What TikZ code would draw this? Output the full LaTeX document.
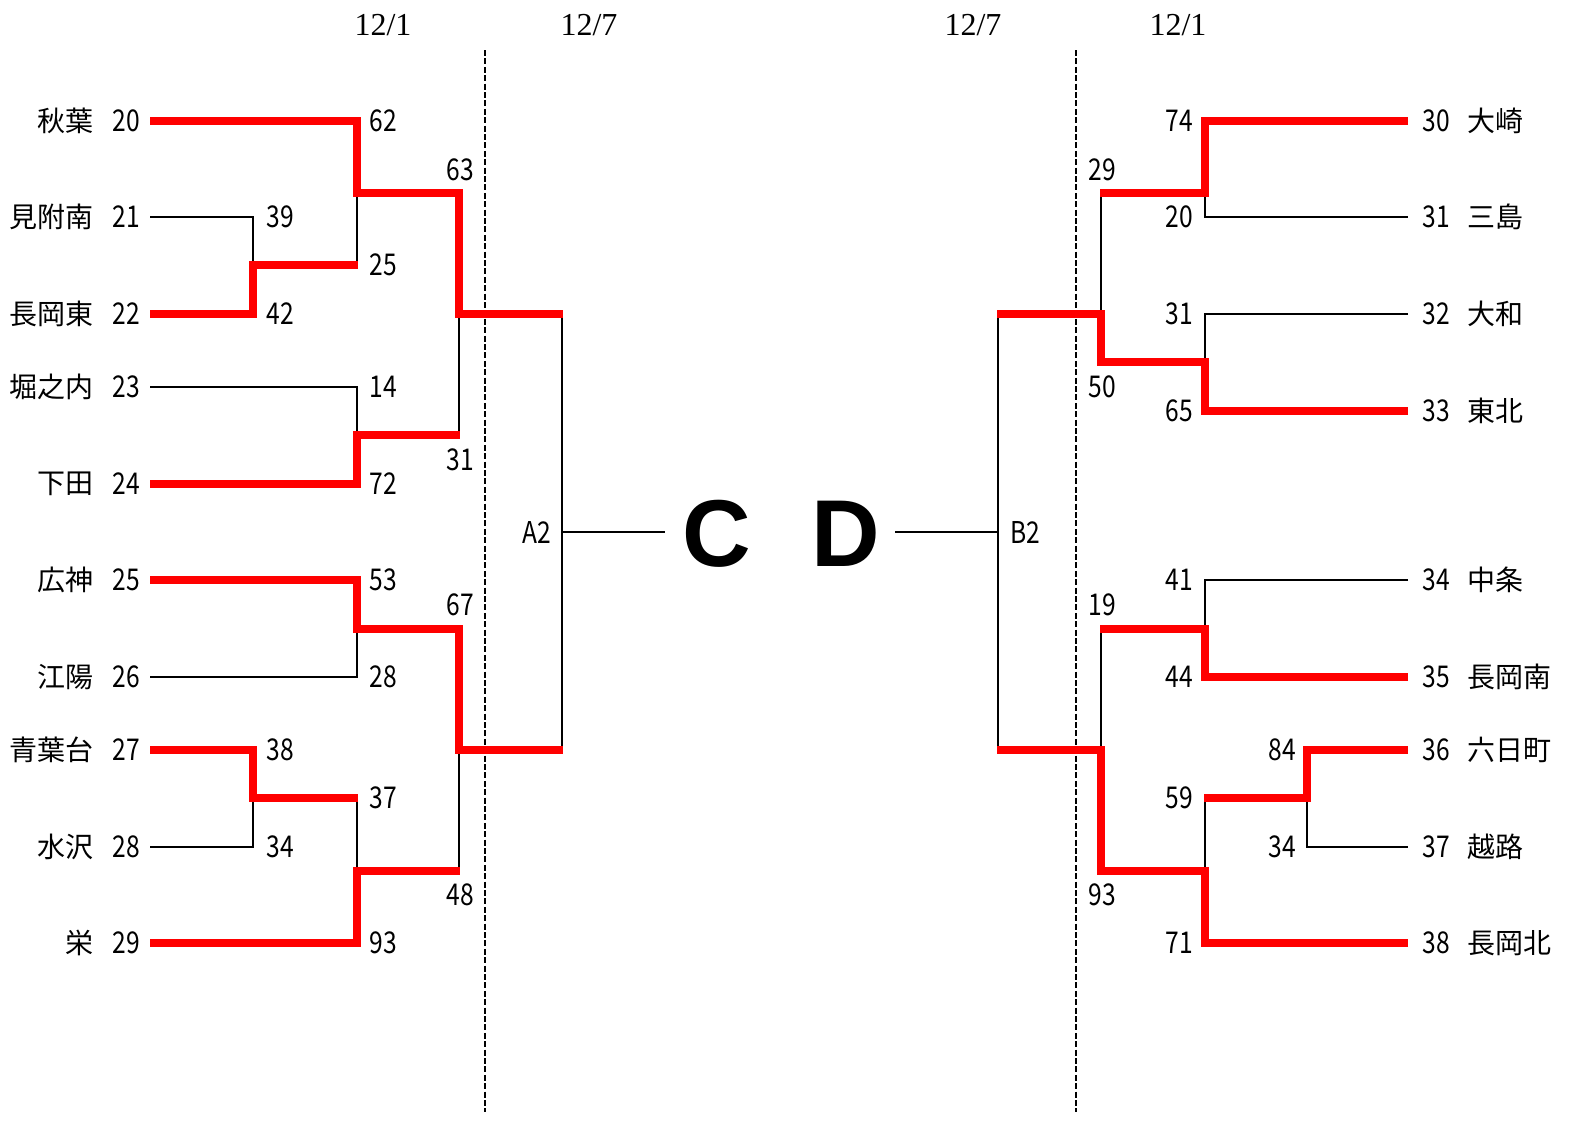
\documentclass[tikz,border=0pt]{standalone}
\usepackage{fontspec}
\setmainfont{Noto Sans CJK JP}
\newfontfamily\numf[FakeStretch=0.82]{Noto Sans CJK JP}
\newfontfamily\datef{Liberation Serif}
\newfontfamily\bigf{Liberation Sans}
\begin{document}
\begin{tikzpicture}[x=0.5pt,y=-0.5pt,
  blk/.style={black,line width=1.45pt,line join=miter},
  win/.style={red,line width=3.6pt,line join=miter},
  cut/.style={black,line width=1.15pt,dash pattern=on 3pt off 1.2pt},
  teamlbl/.style={inner sep=0pt,font=\fontsize{14pt}{14pt}\selectfont},
  numlbl/.style={inner sep=0pt,font=\numf\fontsize{15pt}{15pt}\selectfont},
  datelbl/.style={inner sep=0pt,font=\datef\fontsize{16pt}{16pt}\selectfont},
  biglbl/.style={inner sep=0pt,font=\bigf\bfseries\fontsize{47.5pt}{47.5pt}\selectfont}]
\useasboundingbox (0,0) rectangle (1573,1121);
% dates
\node[datelbl] (d1) at (383,25) {12/1};
\node[datelbl] (d2) at (589,25) {12/7};
\node[datelbl] (d3) at (973,25) {12/7};
\node[datelbl] (d4) at (1178,25) {12/1};
% dashed separators
\coordinate (c1t) at (485,50); \coordinate (c1b) at (485,1112);
\coordinate (c2t) at (1076,50); \coordinate (c2b) at (1076,1112);
\draw[cut] (c1t) -- (c1b);
\draw[cut] (c2t) -- (c2b);
% left teams
\foreach \nm/\n/\y in {秋葉/20/121,見附南/21/217,長岡東/22/314,堀之内/23/387,下田/24/484,広神/25/580,江陽/26/677,青葉台/27/750,水沢/28/847,栄/29/943}{
  \node[teamlbl,anchor=east] (ln\n) at (94,\y) {\nm};
  \node[numlbl] (lnum\n) at (126,\y) {\n};
}
% right teams
\foreach \nm/\n/\y in {大崎/30/121,三島/31/217,大和/32/314,東北/33/411,中条/34/580,長岡南/35/677,六日町/36/750,越路/37/847,長岡北/38/943}{
  \node[teamlbl,anchor=west] (rn\n) at (1467,\y) {\nm};
  \node[numlbl] (rnum\n) at (1436,\y) {\n};
}
% left scores
\foreach \s/\x/\y/\k in {39/280/217/a,42/280/314/b,62/383/121/c,25/383/265/d,14/383/387/e,72/383/484/f,53/383/580/g,28/383/677/h,38/280/750/i,34/280/847/j,37/383/798/k,93/383/943/l,63/460/170/m,31/460/460/n,67/460/605/o,48/460/895/p}{
  \node[numlbl] (ls\k) at (\x,\y) {\s};
}
% right scores
\foreach \s/\x/\y/\k in {74/1179/121/a,20/1179/217/b,31/1179/314/c,65/1179/411/d,41/1179/580/e,44/1179/677/f,84/1282/750/g,34/1282/847/h,59/1179/798/i,71/1179/943/j,29/1102/170/k,50/1102/387/l,19/1102/605/m,93/1102/895/n}{
  \node[numlbl] (rs\k) at (\x,\y) {\s};
}
\node[numlbl] (A2) at (537,532) {A2};
\node[numlbl] (B2) at (1025,532) {B2};
\node[biglbl] (C) at (717,534) {C};
\node[biglbl] (D) at (846,534) {D};
% left bracket (black)
\draw[blk] (150,217) -- (253,217) -- (253,314) -- (150,314);
\draw[blk] (253,265) -- (357,265);
\draw[blk] (150,121) -- (357,121) -- (357,265);
\draw[blk] (357,193) -- (459,193);
\draw[blk] (150,387) -- (357,387) -- (357,484) -- (150,484);
\draw[blk] (357,435) -- (459,435);
\draw[blk] (459,193) -- (459,435);
\draw[blk] (459,314) -- (562,314);
\draw[blk] (150,580) -- (357,580) -- (357,677) -- (150,677);
\draw[blk] (357,629) -- (459,629);
\draw[blk] (150,750) -- (253,750) -- (253,847) -- (150,847);
\draw[blk] (253,798) -- (357,798);
\draw[blk] (357,798) -- (357,943) -- (150,943);
\draw[blk] (357,871) -- (459,871);
\draw[blk] (459,629) -- (459,871);
\draw[blk] (459,750) -- (562,750);
\draw[blk] (562,314) -- (562,750);
\draw[blk] (562,532) -- (665,532);
% right bracket (black)
\draw[blk] (1408,121) -- (1205,121) -- (1205,217) -- (1408,217);
\draw[blk] (1205,193) -- (1101,193);
\draw[blk] (1408,314) -- (1205,314) -- (1205,411) -- (1408,411);
\draw[blk] (1205,362) -- (1101,362);
\draw[blk] (1101,193) -- (1101,362);
\draw[blk] (1101,314) -- (998,314);
\draw[blk] (1408,580) -- (1205,580) -- (1205,677) -- (1408,677);
\draw[blk] (1205,629) -- (1101,629);
\draw[blk] (1408,750) -- (1307,750) -- (1307,847) -- (1408,847);
\draw[blk] (1307,798) -- (1205,798);
\draw[blk] (1205,798) -- (1205,943) -- (1408,943);
\draw[blk] (1205,871) -- (1101,871);
\draw[blk] (1101,629) -- (1101,871);
\draw[blk] (1101,750) -- (998,750);
\draw[blk] (998,314) -- (998,750);
\draw[blk] (998,532) -- (895,532);
% winners left
\draw[win] (150,121) -- (357,121) -- (357,193) -- (459,193) -- (459,314) -- (563,314);
\draw[win] (150,314) -- (253,314) -- (253,265) -- (358,265);
\draw[win] (150,484) -- (357,484) -- (357,435) -- (460,435);
\draw[win] (150,580) -- (357,580) -- (357,629) -- (459,629) -- (459,750) -- (563,750);
\draw[win] (150,750) -- (253,750) -- (253,798) -- (358,798);
\draw[win] (150,943) -- (357,943) -- (357,871) -- (460,871);
% winners right
\draw[win] (1408,121) -- (1205,121) -- (1205,193) -- (1100,193);
\draw[win] (1408,411) -- (1205,411) -- (1205,362) -- (1101,362) -- (1101,314) -- (997,314);
\draw[win] (1408,677) -- (1205,677) -- (1205,629) -- (1100,629);
\draw[win] (1408,750) -- (1307,750) -- (1307,798) -- (1204,798);
\draw[win] (1408,943) -- (1205,943) -- (1205,871) -- (1101,871) -- (1101,750) -- (997,750);
\end{tikzpicture}
\end{document}
